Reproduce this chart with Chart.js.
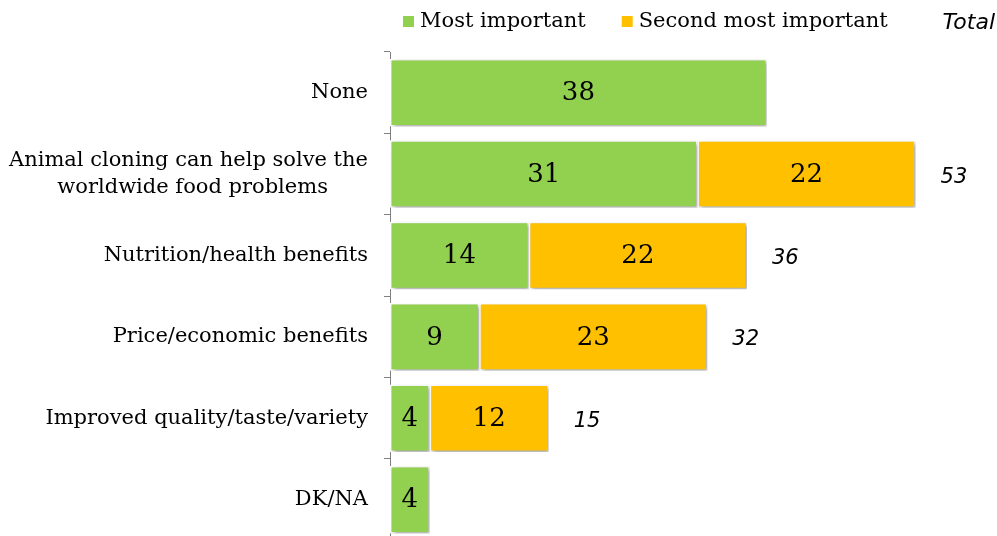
<!DOCTYPE html>
<html>
<head>
<meta charset="utf-8">
<script src="https://cdn.jsdelivr.net/npm/chart.js@4"></script>
<style>
html,body{margin:0;padding:0;background:#fff;overflow:hidden;}
#wrap{width:997px;height:570px;position:relative;}
</style>
</head>
<body>
<div id="wrap"><canvas id="c" width="997" height="570"></canvas></div>
<script>
const categories = [
  "None",
  ["Animal cloning can help solve the", "worldwide food problems      "],
  "Nutrition/health benefits",
  "Price/economic benefits",
  "Improved quality/taste/variety",
  "DK/NA"
];
const mostImportant = [38, 31, 14, 9, 4, 4];
const secondMostImportant = [null, 22, 22, 23, 12, null];
const totals = [null, 53, 36, 32, 15, null];
const seriesNames = ["Most important", "Second most important"];
const totalTitle = "Total";

const GREEN = "#92D050", ORANGE = "#FFC000";
const SERIF = "'DejaVu Serif', serif";
const SANS = "'DejaVu Sans', sans-serif";

const shadowPlugin = {
  id: 'shadow',
  beforeDatasetsDraw(chart) {
    const ctx = chart.ctx;
    ctx.save();
    ctx.shadowColor = 'rgba(0,0,0,0.35)';
    ctx.shadowBlur = 4;
    ctx.shadowOffsetX = 2;
    ctx.shadowOffsetY = 2;
  },
  afterDatasetsDraw(chart) { chart.ctx.restore(); }
};

const labelsPlugin = {
  id: 'labels',
  afterDraw(chart) {
    const ctx = chart.ctx;
    ctx.save();
    ctx.fillStyle = '#000';
    ctx.font = "26px " + SERIF;
    ctx.textAlign = 'center';
    ctx.textBaseline = 'middle';
    chart.data.datasets.forEach((ds, di) => {
      const meta = chart.getDatasetMeta(di);
      meta.data.forEach((bar, i) => {
        const v = ds.data[i];
        if (v == null) return;
        const p = bar.getProps(['x', 'y', 'base'], true);
        ctx.fillText(String(v), (p.x + p.base) / 2, p.y + 1);
      });
    });
    const xs = chart.scales.x;
    const ys = chart.scales.y;
    ctx.font = "italic 21px " + SANS;
    ctx.textAlign = 'left';
    totals.forEach((t, i) => {
      if (t == null) return;
      const end = (mostImportant[i] || 0) + (secondMostImportant[i] || 0);
      ctx.fillText(String(t), xs.getPixelForValue(end) + 25, ys.getPixelForValue(i) + 3);
    });
    ctx.textAlign = 'right';
    ctx.font = "italic 22px " + SANS;
    ctx.fillText(totalTitle, 995, 23);
    ctx.font = "21px " + SERIF;
    ctx.textAlign = 'left';
    let x = 403;
    chart.data.datasets.forEach((ds) => {
      ctx.fillStyle = ds.backgroundColor;
      ctx.fillRect(x, 16, 11, 11);
      x += 17;
      ctx.fillStyle = '#000';
      ctx.fillText(ds.label, x, 22);
      x += ctx.measureText(ds.label).width + 36;
    });
    ctx.restore();
  }
};

new Chart(document.getElementById('c'), {
  type: 'bar',
  data: {
    labels: categories,
    datasets: [
      { label: seriesNames[0], data: mostImportant, backgroundColor: GREEN, borderColor: '#fff', borderWidth: 1.5, borderSkipped: false },
      { label: seriesNames[1], data: secondMostImportant, backgroundColor: ORANGE, borderColor: '#fff', borderWidth: 1.5, borderSkipped: false }
    ]
  },
  options: {
    indexAxis: 'y',
    responsive: false,
    animation: false,
    events: [],
    layout: { padding: { top: 52, right: 12, bottom: 3, left: 0 } },
    datasets: { bar: { categoryPercentage: 1, barPercentage: 0.83 } },
    plugins: { legend: { display: false }, tooltip: { enabled: false } },
    scales: {
      x: { stacked: true, display: false, min: 0, max: 60 },
      y: {
        stacked: true,
        afterFit(s) { s.width = 390; },
        border: { display: true, color: '#7f7f7f', width: 1 },
        grid: { offset: true, drawOnChartArea: false, tickLength: 6, color: '#7f7f7f' },
        ticks: { padding: 16, color: '#000', font: { family: SERIF, size: 21, lineHeight: 1.3 }, autoSkip: false }
      }
    }
  },
  plugins: [shadowPlugin, labelsPlugin]
});
</script>
</body>
</html>
